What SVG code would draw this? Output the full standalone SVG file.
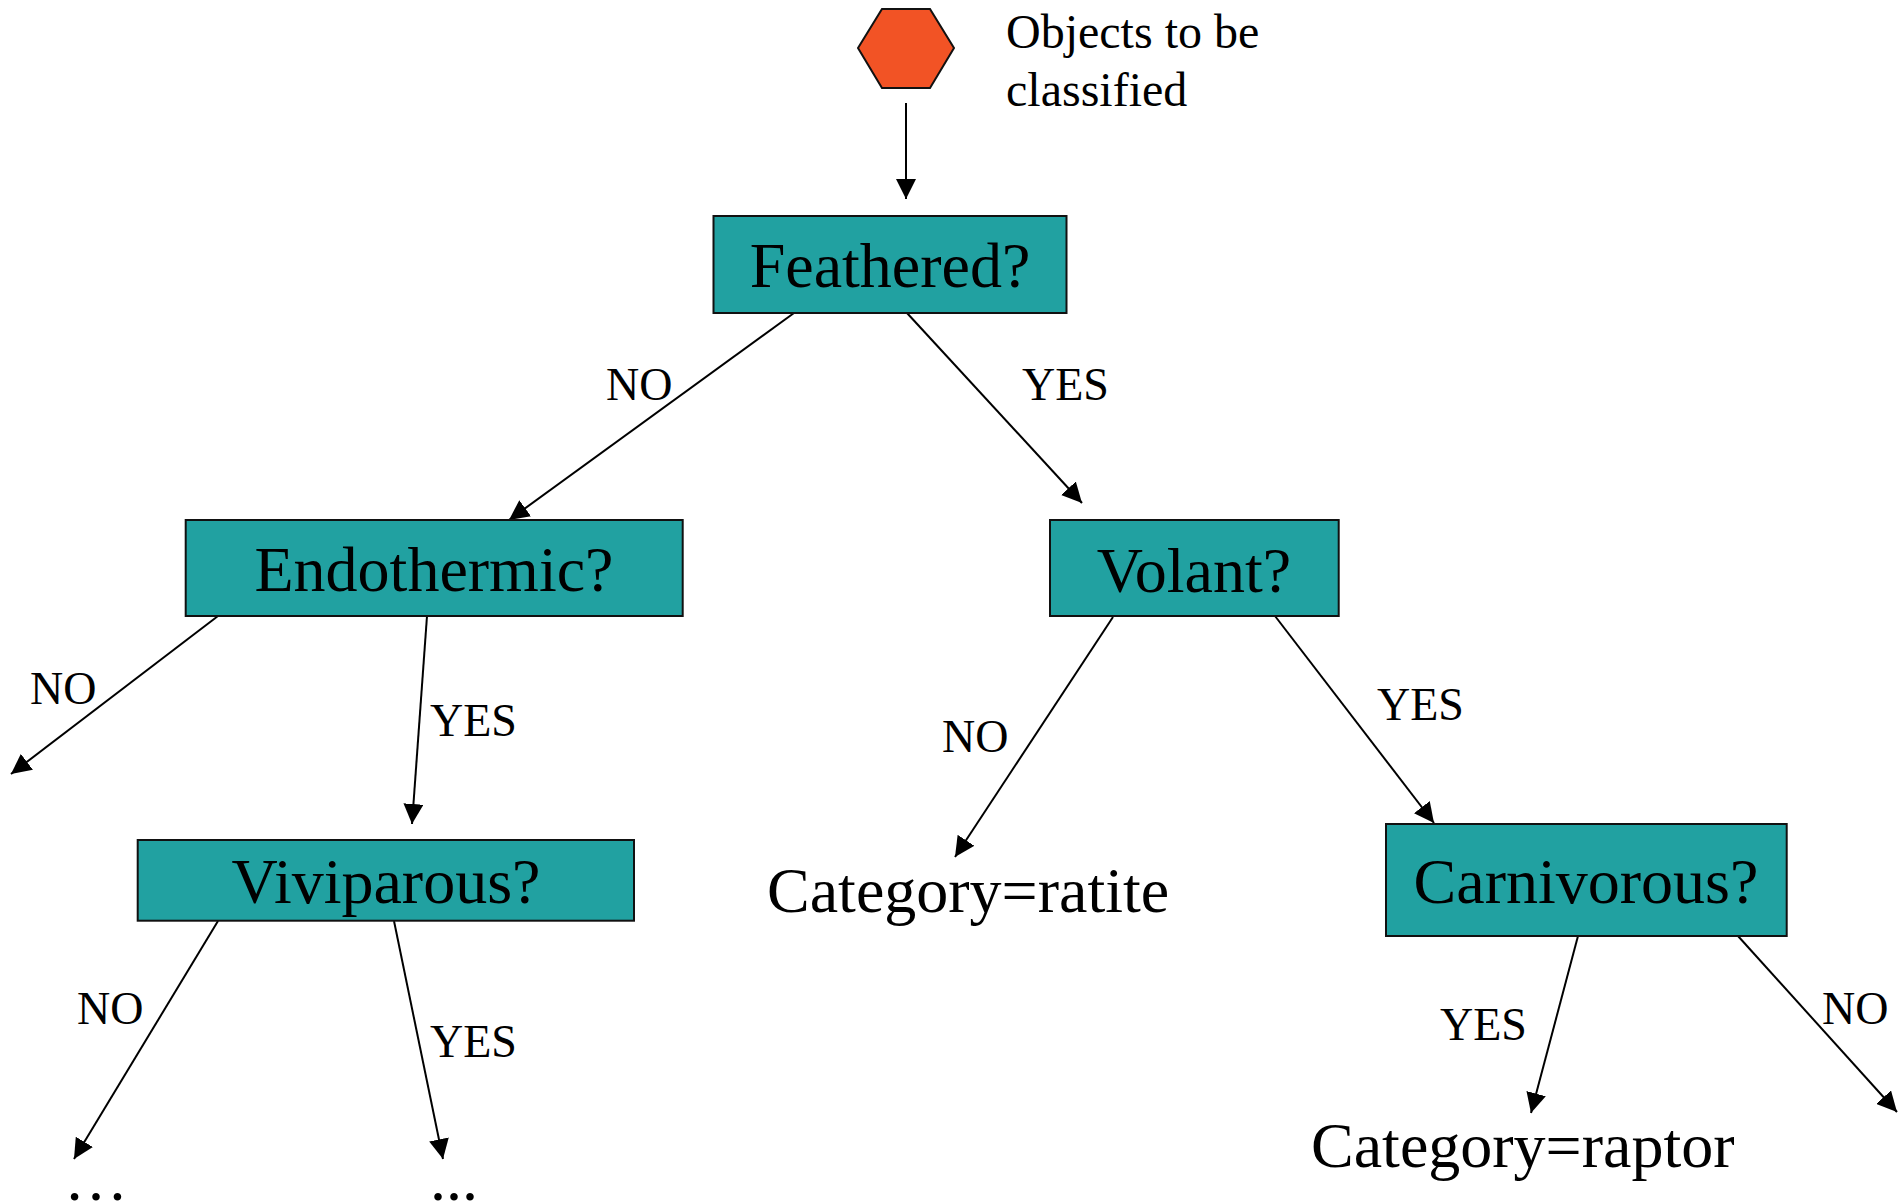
<svg xmlns="http://www.w3.org/2000/svg" width="1904" height="1204" viewBox="0 0 1904 1204">
<style>
.box{fill:#21a1a1;stroke:#111;stroke-width:2}
.big{font-family:"Liberation Serif","Times New Roman",serif;font-size:64px;fill:#000}
.mid{font-family:"Liberation Serif","Times New Roman",serif;font-size:48px;fill:#000}
.lbl{font-family:"Liberation Serif","Times New Roman",serif;font-size:46px;fill:#000}
.c{text-anchor:middle}
.edge{stroke:#000;stroke-width:2;fill:none;marker-end:url(#ah)}
</style>
<defs>
<marker id="ah" markerUnits="userSpaceOnUse" markerWidth="20" markerHeight="20" refX="20" refY="10" orient="auto">
<path d="M0,0 L20,10 L0,20 z" fill="#000"/>
</marker>
</defs>
<rect width="1904" height="1204" fill="#fff"/>
<g id="connectors">
<line class="edge" x1="906" y1="103" x2="906" y2="199"/>
<line class="edge" x1="794" y1="313" x2="509" y2="520"/>
<line class="edge" x1="907" y1="313" x2="1082" y2="503"/>
<line class="edge" x1="218" y1="616" x2="11" y2="774"/>
<line class="edge" x1="427" y1="616" x2="412" y2="824"/>
<line class="edge" x1="218" y1="921" x2="74" y2="1159"/>
<line class="edge" x1="394" y1="921" x2="443" y2="1159"/>
<line class="edge" x1="1113" y1="617" x2="955" y2="857"/>
<line class="edge" x1="1275" y1="616" x2="1434" y2="823"/>
<line class="edge" x1="1578" y1="936" x2="1531" y2="1113"/>
<line class="edge" x1="1738" y1="936" x2="1897" y2="1112"/>
</g>
<g id="labels">
<text class="lbl" x="606" y="400">NO</text>
<text class="lbl" x="1022" y="400">YES</text>
<text class="lbl" x="30" y="704">NO</text>
<text class="lbl" x="430" y="736">YES</text>
<text class="lbl" x="77" y="1024">NO</text>
<text class="lbl" x="430" y="1057">YES</text>
<text class="lbl" x="942" y="752">NO</text>
<text class="lbl" x="1377" y="720">YES</text>
<text class="lbl" x="1440" y="1040">YES</text>
<text class="lbl" x="1822" y="1024">NO</text>
</g>
<g id="start">
<polygon points="858,48 882,9 930,9 954,48 930,88 882,88" fill="#f25325" stroke="#111" stroke-width="2"/>
<text class="mid" x="1006" y="48">Objects to be</text>
<text class="mid" x="1006" y="106">classified</text>
</g>
<g id="feathered">
<rect class="box" x="713.5" y="216" width="353" height="97"/>
<text class="big c" x="890" y="287">Feathered?</text>
</g>
<g id="endothermic">
<rect class="box" x="185.7" y="520" width="497" height="96"/>
<text class="big c" x="434" y="591">Endothermic?</text>
</g>
<g id="volant">
<rect class="box" x="1050" y="520" width="288.7" height="96"/>
<text class="big c" x="1194" y="592">Volant?</text>
</g>
<g id="viviparous">
<rect class="box" x="137.7" y="840" width="496.3" height="80.7"/>
<text class="big c" x="386" y="903">Viviparous?</text>
</g>
<g id="carnivorous">
<rect class="box" x="1386" y="824" width="400.7" height="112"/>
<text class="big c" x="1586" y="903">Carnivorous?</text>
</g>
<g id="ratite">
<text class="big" x="767" y="912">Category=ratite</text>
</g>
<g id="raptor">
<text class="big" x="1311" y="1167">Category=raptor</text>
</g>
<g id="more-no">
<text class="big" x="64" y="1200">…</text>
</g>
<g id="more-yes">
<text class="big" x="430" y="1200">...</text>
</g>
</svg>
